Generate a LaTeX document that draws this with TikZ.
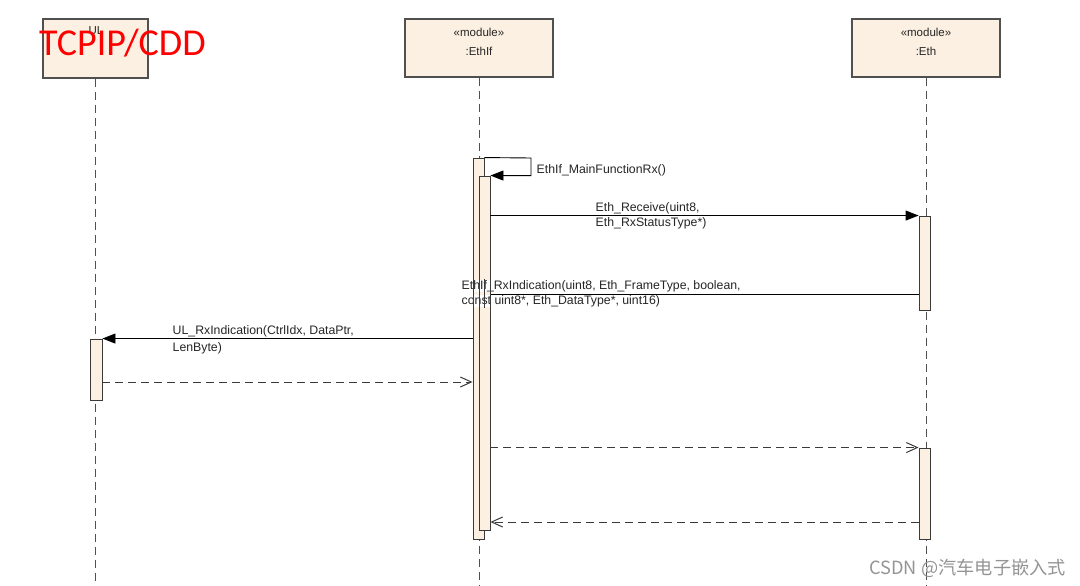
\documentclass[tikz,border=0pt]{standalone}
\usepackage{fontspec}
\setmainfont{Liberation Sans}
\newfontfamily\titlefont{Carlito}
\newfontfamily\cjkfont{Noto Sans CJK SC}
\usetikzlibrary{arrows.meta}
\definecolor{boxfill}{HTML}{FBF0E1}
\definecolor{edge}{HTML}{505050}
\definecolor{lineclr}{HTML}{3A3A3A}
\tikzset{
  objbox/.style={draw=edge, line width=1.3pt, fill=boxfill, minimum width=148pt, minimum height=58pt, inner sep=0pt},
  lifeline/.style={draw=edge, line width=1pt, dash pattern=on 8pt off 5pt},
  actbar/.style={draw=lineclr, line width=0.9pt, fill=boxfill, minimum width=11pt, inner sep=0pt},
  baredge/.style={draw=lineclr, line width=0.9pt, minimum width=11pt, inner sep=0pt},
  syncmsg/.style={draw=black, line width=0.9pt, -{Triangle[length=13pt,width=10pt]}},
  plainmsg/.style={draw=black, line width=0.9pt},
  retmsg/.style={draw=lineclr, line width=1pt, dash pattern=on 8pt off 5pt, -{Straight Barb[length=11pt,width=10pt]}},
  lbl/.style={font=\fontsize{12.3}{14}\selectfont, anchor=west, inner sep=0.5pt, text=black!85},
  lblbg/.style={lbl, fill=white},
  stereo/.style={font=\fontsize{11.5}{13}\selectfont, text=black!85, inner sep=0pt},
}
\begin{document}
\begin{tikzpicture}[x=1pt,y=-1pt]
\useasboundingbox[fill=white] (0,0) rectangle (1080,586);

% object boxes
\node[objbox, minimum width=105pt, minimum height=59pt] (ul) at (95.5,48.5) {};
\node[objbox] (ethif) at (479,48) {};
\node[objbox] (eth) at (926,48) {};
\node[stereo] (ulname) at (96,31) {UL};
\node[stereo] (ethifst) at (479,32) {«module»};
\node[stereo] (ethifname) at (479,51) {:EthIf};
\node[stereo] (ethst) at (926,32) {«module»};
\node[stereo] (ethname) at (926,51) {:Eth};

% lifelines
\coordinate (bottom) at (0,586);
\draw[lifeline] (ul.south) -- (ul.south |- bottom);
\draw[lifeline] (ethif.south) -- (ethif.south |- bottom);
\draw[lifeline] (eth.south) -- (eth.south |- bottom);

% activation bars
\node[actbar, minimum height=381pt] (outer) at (478.5,348.5) {};
\node[actbar, minimum height=354pt] (inner) at (484.5,353) {};
\node[actbar, minimum height=94pt] (eth1) at (924.5,263) {};
\node[actbar, minimum height=91pt] (eth2) at (924.5,493.5) {};
\node[actbar, minimum width=12pt, minimum height=61pt] (ulbar) at (96,369.5) {};

% self message
\coordinate (selfA) at (531,158);
\draw[syncmsg] (outer.north east) -- (selfA) -- (selfA |- inner.north east) -- (inner.north east);
\node[lbl] (lself) at (536,170) {EthIf\_MainFunctionRx()};

% Eth_Receive
\draw[syncmsg] (inner.east |- eth1.north) -- (eth1.north west);
\node[lblbg] (lrec1) at (595,208) {Eth\_Receive(uint8,};
\node[lblbg] (lrec2) at (595,223.5) {Eth\_RxStatusType*)};

% EthIf_RxIndication
\coordinate (rxiy) at (0,294);
\draw[plainmsg] (eth1.west |- rxiy) -- (inner.east |- rxiy);
\node[lblbg] (lrxi1) at (461,286) {EthIf\_RxIndication(uint8, Eth\_FrameType, boolean,};
\node[lblbg] (lrxi2) at (461,301) {const uint8*, Eth\_DataType*, uint16)};

% bar outlines over the labels
\begin{scope}
\clip (lrxi1.north west) rectangle (lrxi2.south east);
\node[baredge, minimum height=381pt] at (outer) {};
\node[baredge, minimum height=354pt] at (inner) {};
\end{scope}

% UL_RxIndication
\draw[syncmsg] (outer.west |- ulbar.north) -- (ulbar.north east);
\node[lblbg] (lul1) at (172,331) {UL\_RxIndication(CtrlIdx, DataPtr,};
\node[lblbg] (lul2) at (172,348) {LenByte)};

% returns
\coordinate (r1) at (0,382);
\draw[retmsg] (ulbar.east |- r1) -- (outer.west |- r1);
\draw[retmsg] (inner.east |- eth2.north) -- (eth2.north west);
\coordinate (r3) at (0,522);
\draw[retmsg] (eth2.west |- r3) -- (inner.east |- r3);

% title overlay
\node[anchor=west, inner sep=0pt, text=red, font=\titlefont\fontsize{38}{42}\selectfont] (title) at (39,43) {TCPIP/CDD};

% watermark
\node[anchor=east, inner sep=0pt, text=black!42, font=\cjkfont\fontsize{18.2}{20}\selectfont] (wm) at (1066,568) {CSDN @汽车电子嵌入式};
\end{tikzpicture}
\end{document}
